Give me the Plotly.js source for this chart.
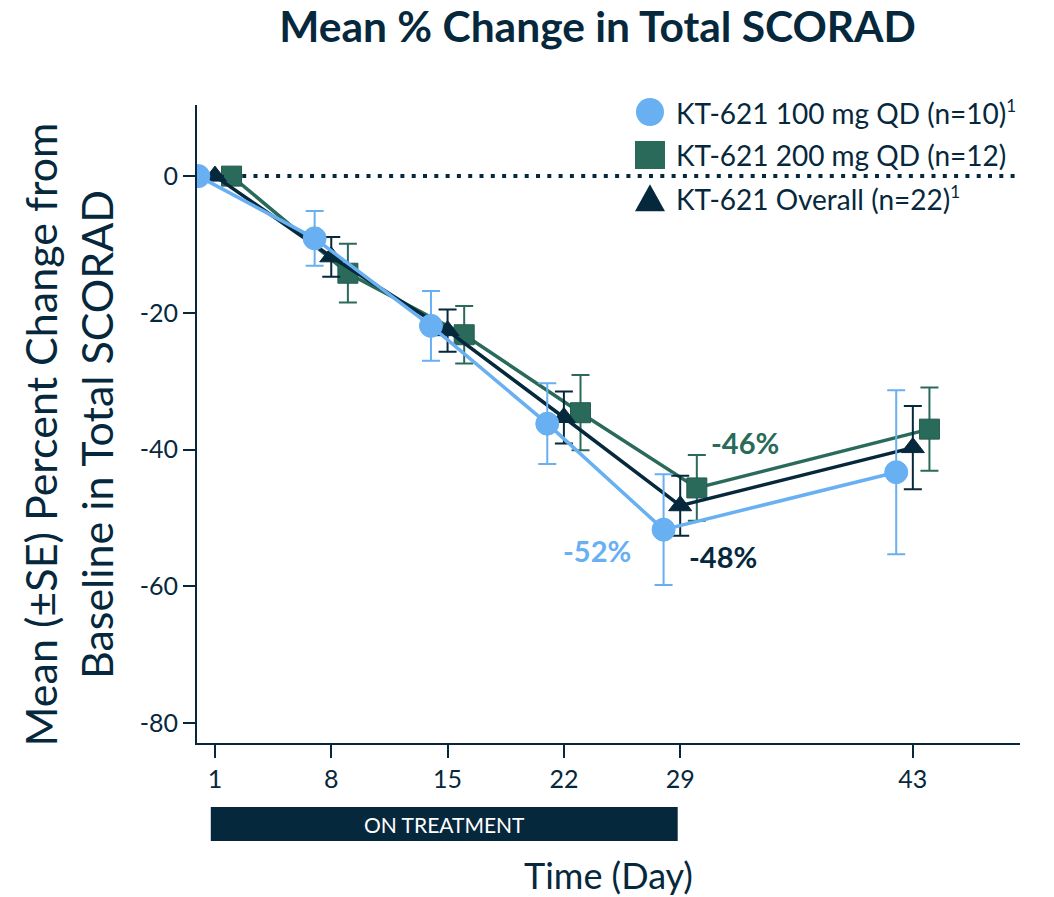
<!DOCTYPE html>
<html>
<head>
<meta charset="utf-8">
<script src="https://cdn.plot.ly/plotly-3.0.1.min.js"></script>
<style>
  html, body { margin: 0; padding: 0; background: #ffffff; }
  #chart { width: 1054px; height: 897px; }
</style>
</head>
<body>
<div id="chart"></div>
<script>
// Study visit days
const days = [1, 8, 15, 22, 29, 43];

// Mean % change from baseline in total SCORAD, with standard errors
const dose100Mean = [0, -9.1, -21.9, -36.2, -51.7, -43.3];
const dose100SE   = [0, 4.0, 5.1, 5.9, 8.1, 12.0];

const dose200Mean = [0, -14.2, -23.2, -34.6, -45.6, -37.0];
const dose200SE   = [0, 4.3, 4.2, 5.5, 4.8, 6.1];

const overallMean = [0, -11.8, -22.6, -35.3, -48.2, -39.7];
const overallSE   = [0, 2.9, 3.1, 3.8, 4.4, 6.1];

const seriesNames = [
  'KT-621 100 mg QD (n=10)<sup>1</sup>',
  'KT-621 200 mg QD (n=12)',
  'KT-621 Overall (n=22)<sup>1</sup>'
];

const yTickVals   = [0, -20, -40, -60, -80];
const yTickLabels = ['0', '-20', '-40', '-60', '-80'];

const NAVY  = '#06283c';
const BLUE  = '#68b0f1';
const GREEN = '#2a6a5a';
const FONT  = 'Lato, "Open Sans", sans-serif';

// Arms are nudged one day apart so their error bars stay readable
const DODGE = 1;
const shift = (d) => days.map(v => v + d);
const errs = (se) => se.map((v, i) => (i === 0 ? null : v));

function armTrace(name, mean, se, color, symbol, size, dx) {
  return {
    type: 'scatter',
    mode: 'lines+markers',
    name: name,
    x: shift(dx),
    y: mean,
    showlegend: false,
    line: { color: color, width: 3.5 },
    marker: { color: color, symbol: symbol, size: size,
              line: { color: color === GREEN ? '#245c4e' : color, width: 1 } },
    error_y: { type: 'data', array: errs(se), visible: true,
               color: color, thickness: 2, width: 9 },
    hoverinfo: 'x+y'
  };
}

const traces = [
  armTrace(seriesNames[1], dose200Mean, dose200SE, GREEN, 'square', 20, DODGE),
  armTrace(seriesNames[2], overallMean, overallSE, NAVY, 'triangle-up', 20, 0),
  armTrace(seriesNames[0], dose100Mean, dose100SE, BLUE, 'circle', 23, -DODGE)
];

// Labels at the day-29 visit, stated from the plotted means
const d29 = days.indexOf(29);
const pct = (v) => Math.round(v) + '%';

// Treatment window
const treatStart = 0.75, treatEnd = 28.85;

// Key block in the upper right: large symbols beside each arm name
const keyX = 0.5504, keyTextX = 0.5795;
const keyRows = [0.989, 0.9216, 0.854];
const keyColors = [BLUE, GREEN, NAVY];
const keyShapes = [
  { type: 'circle', x0: -14, x1: 14, y0: -14, y1: 14 },
  { type: 'rect', x0: -15, x1: 15, y0: -14, y1: 14 },
  { type: 'path', path: 'M -15,-13 L 15,-13 L 0,14 Z' }
];
const legendShapes = keyShapes.map((s, i) => Object.assign({
  xref: 'paper', yref: 'paper',
  xsizemode: 'pixel', ysizemode: 'pixel',
  xanchor: keyX, yanchor: keyRows[i],
  fillcolor: keyColors[i], line: { width: 0 }
}, s));
const legendTexts = seriesNames.map((n, i) => ({
  xref: 'paper', yref: 'paper', x: keyTextX, y: keyRows[i],
  xanchor: 'left', yanchor: 'middle', showarrow: false,
  text: n.replace('<sup>1</sup>', '<sup><span style="font-size:17px">1</span></sup>'),
  font: { family: FONT, size: 28, color: NAVY }
}));

const layout = {
  width: 1054,
  height: 897,
  margin: { l: 197, r: 34, t: 105, b: 154 },
  paper_bgcolor: '#ffffff',
  plot_bgcolor: '#ffffff',
  font: { family: FONT, color: NAVY },
  title: {
    text: '<b>Mean % Change in Total SCORAD</b>',
    font: { family: FONT, size: 42.5, color: NAVY },
    x: 0.567, xanchor: 'center',
    y: 0.97, yanchor: 'middle'
  },
  showlegend: false,
  xaxis: {
    range: [-0.08, 49.45],
    tickvals: days,
    ticktext: days.map(String),
    ticks: 'outside',
    ticklen: 13,
    tickwidth: 1.5,
    tickcolor: NAVY,
    tickfont: { family: FONT, size: 25, color: NAVY },
    showline: true,
    linecolor: NAVY,
    linewidth: 2,
    showgrid: false,
    zeroline: false,
    title: {
      text: 'Time (Day)',
      font: { family: FONT, size: 36, color: NAVY },
      standoff: 73
    }
  },
  yaxis: {
    range: [-82.9, 10.4],
    tickvals: yTickVals,
    ticktext: yTickLabels,
    ticks: 'outside',
    ticklen: 12,
    tickwidth: 1.5,
    tickcolor: NAVY,
    tickfont: { family: FONT, size: 25, color: NAVY },
    showline: true,
    linecolor: NAVY,
    linewidth: 2,
    showgrid: false,
    zeroline: false
  },
  shapes: [
    // baseline reference
    { type: 'line', xref: 'paper', yref: 'y', x0: 0, x1: 1, y0: 0, y1: 0,
      line: { color: NAVY, width: 4, dash: '4px,7.3px' }, layer: 'below' },
    // on-treatment bar below the axis
    { type: 'rect', xref: 'x', yref: 'paper', x0: treatStart, x1: treatEnd,
      y0: -0.1536, y1: -0.1003, fillcolor: NAVY, line: { width: 0 } }
  ].concat(legendShapes),
  annotations: [
    // y-axis title, two lines
    { xref: 'paper', yref: 'paper', x: -0.156, y: 0.483,
      xanchor: 'center', yanchor: 'middle', textangle: -90, showarrow: false,
      text: 'Mean (±SE) Percent Change from<br>Baseline in Total SCORAD',
      font: { family: FONT, size: 43, color: NAVY } },
    { xref: 'x', yref: 'paper', x: (treatStart + treatEnd) / 2, y: -0.127,
      xanchor: 'center', yanchor: 'middle',
      text: 'ON TREATMENT', showarrow: false,
      font: { family: FONT, size: 21, color: '#ffffff' } },
    { xref: 'x', yref: 'y', x: days[d29] + 3.9, y: dose200Mean[d29] + 6.7,
      text: '<b>' + pct(dose200Mean[d29]) + '</b>', showarrow: false,
      font: { family: FONT, size: 29, color: GREEN } },
    { xref: 'x', yref: 'y', x: days[d29] - 5.0, y: dose100Mean[d29] - 3.0,
      text: '<b>' + pct(dose100Mean[d29]) + '</b>', showarrow: false,
      font: { family: FONT, size: 29, color: BLUE } },
    { xref: 'x', yref: 'y', x: days[d29] + 2.6, y: overallMean[d29] - 7.4,
      text: '<b>' + pct(overallMean[d29]) + '</b>', showarrow: false,
      font: { family: FONT, size: 29, color: NAVY } }
  ].concat(legendTexts)
};

Plotly.newPlot('chart', traces, layout, { displayModeBar: false, responsive: false });
</script>
</body>
</html>
